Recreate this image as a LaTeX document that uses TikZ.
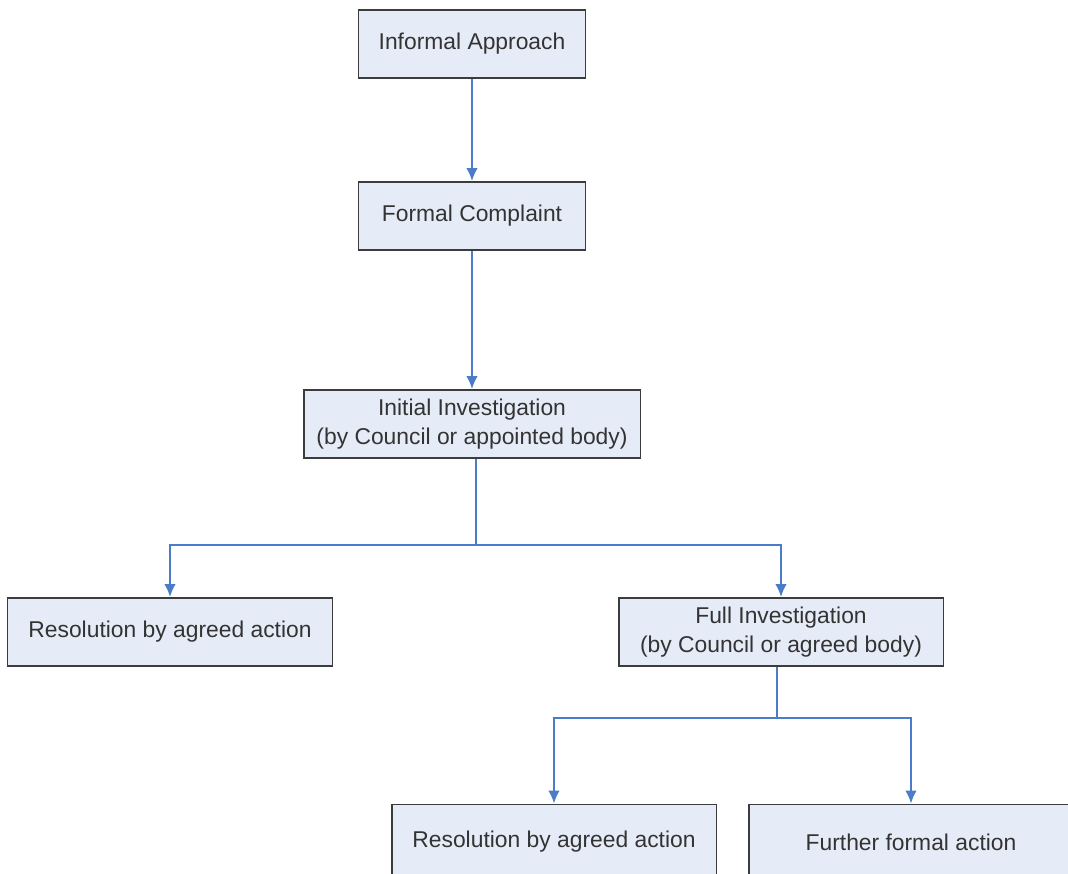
\documentclass[tikz,border=0pt]{standalone}
\usepackage{fontspec}
\setmainfont{Liberation Sans}
\usetikzlibrary{arrows.meta}
\definecolor{boxfill}{HTML}{E6ECF7}
\definecolor{boxline}{HTML}{3C3C3C}
\definecolor{flow}{HTML}{4A7CC9}
\begin{document}
\begin{tikzpicture}[x=0.02cm, y=-0.02cm,
    stage/.style={draw=boxline, line width=1.1pt, fill=boxfill, text=black!80,
        minimum width=6.5cm, minimum height=1.36cm, align=center,
        font=\fontsize{13}{16.5}\selectfont},
    flowline/.style={draw=flow, line width=1pt},
    flowarrow/.style={flowline, -{Latex[length=2.6mm, width=2.3mm]}}]
    \useasboundingbox (0,0) rectangle (1068,873);
    \clip (0,0) rectangle (1068,873);
    % main chain
    \node[stage, minimum width=4.54cm] (informal) at (472,44) {Informal Approach};
    \node[stage, minimum width=4.54cm] (formal) at (472,216) {Formal Complaint};
    \node[stage, minimum width=6.74cm] (initial) at (472,424) {Initial Investigation\\(by Council or appointed body)};
    \node[stage] (resolveA) at (170,632) {Resolution by agreed action};
    \node[stage] (full) at (781,632) {Full Investigation\\(by Council or agreed body)};
    % bottom row runs off the page
    \node[stage, minimum height=1.5cm] (resolveB) at (554,842) {Resolution by agreed action};
    \node[stage, minimum height=1.5cm] (further) at (911,842) {Further formal action};
    \draw[flowarrow] (informal) -- (formal);
    \draw[flowarrow] (formal) -- (initial);
    % first split
    \coordinate (splitA) at (476,545);
    \draw[flowline] (initial.south -| splitA) -- (splitA);
    \draw[flowarrow] (splitA) -| (resolveA.north);
    \draw[flowarrow] (splitA) -| (full.north);
    % second split
    \coordinate (splitB) at (777,718);
    \draw[flowline] (full.south -| splitB) -- (splitB);
    \draw[flowarrow] (splitB) -| (resolveB.north);
    \draw[flowarrow] (splitB) -| (further.north);
\end{tikzpicture}
\end{document}
